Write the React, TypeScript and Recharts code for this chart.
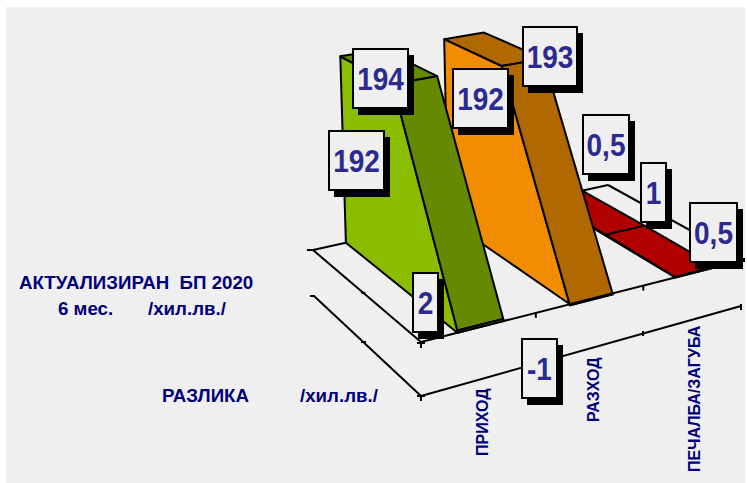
import React from "react";
import { LineChart, Line, XAxis, YAxis, Customized } from "recharts";

const depthNames = ["АКТУАЛИЗИРАН БП 2020", "6 мес.", "РАЗЛИКА"];
const categories = ["ПРИХОД", "РАЗХОД", "ПЕЧАЛБА/ЗАГУБА"];
const prihod = [192, 194, 2];
const razhod = [192, 193, -1];
const pechalba = [0.5, 1, 0.5];

const chartData = depthNames.map((name, i) => ({
  name,
  prihod: prihod[i],
  razhod: razhod[i],
  pechalba: pechalba[i],
}));

const WIDTH = 747;
const HEIGHT = 483;
const Y_MIN = -50;
const Y_MAX = 200;

// floor plane corners, back-left / back-right / front-right / front-left
const FLOOR = [[313, 250], [608, 185], [744, 260], [421, 342]];
const RIBBON_LEFT = 0.31;
const RIBBON_RIGHT = 0.71;

// homography from (u, d) on the unit square to the floor quad
const [p0, p1, p2, p3] = FLOOR;
const sx = p0[0] - p1[0] + p2[0] - p3[0];
const sy = p0[1] - p1[1] + p2[1] - p3[1];
const dx1 = p1[0] - p2[0];
const dx2 = p3[0] - p2[0];
const dy1 = p1[1] - p2[1];
const dy2 = p3[1] - p2[1];
const det = dx1 * dy2 - dx2 * dy1;
const g = (sx * dy2 - dx2 * sy) / det;
const h = (dx1 * sy - sx * dy1) / det;

function project(u: number, d: number, value = 0) {
  const w = g * u + h * d + 1;
  const x = ((p1[0] - p0[0] + g * p1[0]) * u + (p3[0] - p0[0] + h * p3[0]) * d + p0[0]) / w;
  const y = ((p1[1] - p0[1] + g * p1[1]) * u + (p3[1] - p0[1] + h * p3[1]) * d + p0[1]) / w;
  const lift = (value * 0.98) / w;
  // verticals converge upward, so the lean depends on where we are across the chart
  const lean = 0.03 - (x - 346) * 0.00008;
  return [x - lift * lean, y - lift];
}

const poly = (pts: number[][]) => pts.map((p) => `${p[0].toFixed(1)},${p[1].toFixed(1)}`).join(" ");

// turn the point the line scales gave us back into depth and value
const depthOf = (x: number) => x / WIDTH;
const valueOf = (y: number) => Y_MAX - (y * (Y_MAX - Y_MIN)) / HEIGHT;

function ribbonDot(series: number, light: string, dark: string) {
  return (props: any) => {
    const { index, points } = props;
    if (index !== 0) return <g key={index} />;
    const uL = (series + RIBBON_LEFT) / 3;
    const uR = (series + RIBBON_RIGHT) / 3;
    const rows = points.map((pt: any) => ({ d: depthOf(pt.x), v: valueOf(pt.y) }));
    const topsL = rows.map((r: any) => project(uL, r.d, r.v));
    const topsR = rows.map((r: any) => project(uR, r.d, r.v));
    const last = rows.length - 1;
    const side = [...topsL, project(uL, rows[last].d), project(uL, rows[0].d)];
    const front = [topsL[last], topsR[last], project(uR, rows[last].d), project(uL, rows[last].d)];
    return (
      <g key={index} stroke="#000" strokeWidth={2} strokeLinejoin="round">
        <polygon points={poly(side)} fill={light} />
        {rows.slice(0, last).map((_: any, i: number) => (
          <polygon key={i} points={poly([topsL[i], topsR[i], topsR[i + 1], topsL[i + 1]])} fill={dark} />
        ))}
        <polygon points={poly(front)} fill={dark} />
      </g>
    );
  };
}

// label boxes: left, top, width, per series and depth row
const LABEL_BOXES = [
  [[329, 131, 55], [353, 49, 55], [413, 273, 25]],
  [[453, 69, 55], [523, 27, 54], [522, 339, 35]],
  [[583, 115, 46], [641, 163, 25], [690, 203, 47]],
];
const LABEL_H = 59;

function labelDot(series: number) {
  return (props: any) => {
    const { index, value } = props;
    const [x, y, w] = LABEL_BOXES[series][index];
    const text = String(value).replace(".", ",");
    return (
      <g key={index}>
        <rect x={x + 5} y={y + 6} width={w + 1} height={LABEL_H + 1} fill="#000" />
        <rect x={x} y={y} width={w} height={LABEL_H} fill="#efefef" stroke="#000" strokeWidth={2} />
        <text
          transform={`translate(${x + w / 2},${y + LABEL_H / 2 + 11}) scale(1,1.12)`}
          textAnchor="middle"
          fontFamily="'Liberation Sans', Arial, sans-serif"
          fontWeight="bold"
          fontSize={28}
          fill="#2b2b8f"
        >
          {text}
        </text>
      </g>
    );
  };
}

const axisText = {
  fontFamily: "'Liberation Sans', Arial, sans-serif",
  fontWeight: "bold" as const,
  fill: "#00007a",
};

const Floor = () => {
  const line = (a: number[], b: number[]) => (
    <line x1={a[0]} y1={a[1]} x2={b[0]} y2={b[1]} stroke="#000" strokeWidth={2} />
  );
  const categoryX = [488, 599, 700];
  const categoryY = [456, 422, 472];
  const leftMid = project(0, 0.5);
  // the lower frame sits under the floor
  const lowBack = [314, 296];
  const lowFront = [421, 396];
  const lowRight = [741, 306];
  return (
    <g>
      {line(p0, p1)}
      {line(p1, p2)}
      {line(p2, p3)}
      {line(p3, p0)}
      {line(p0, [p0[0] - 6, p0[1]])}
      {line(lowBack, lowFront)}
      {line(lowFront, lowRight)}
      {[1 / 3, 2 / 3].map((u) => {
        const t = project(u, 1);
        return <React.Fragment key={u}>{line(t, [t[0], t[1] + 5])}</React.Fragment>;
      })}
      {line([p3[0], p3[1]], [p3[0], p3[1] + 6])}
      {line([p3[0] - 4, p3[1] + 1], [p3[0] + 4, p3[1] + 1])}
      {line([lowFront[0], lowFront[1]], [lowFront[0], lowFront[1] + 5])}
      {line([lowFront[0] - 4, lowFront[1]], [lowFront[0] + 4, lowFront[1]])}
      {line([lowBack[0] - 4, lowBack[1]], [lowBack[0] + 1, lowBack[1]])}
      {line([leftMid[0] - 2, leftMid[1]], [leftMid[0] + 2, leftMid[1]])}
      {line([361, 342], [366, 342])}
      {line([643, 331], [643, 336])}
      {line([741, 304], [741, 310])}
      {line([744, 258], [744, 262])}
      <text x={19} y={289} fontSize={18.7} {...axisText} xmlSpace="preserve">АКТУАЛИЗИРАН  БП 2020</text>
      <text x={58} y={315} fontSize={18.7} {...axisText}>{depthNames[1]}</text>
      <text x={148} y={315} fontSize={18.7} {...axisText}>/хил.лв./</text>
      <text x={162} y={402} fontSize={18.7} {...axisText}>{depthNames[2]}</text>
      <text x={300} y={402} fontSize={18.7} {...axisText}>/хил.лв./</text>
      {categories.map((c, i) => (
        <text
          key={c}
          transform={`translate(${categoryX[i]},${categoryY[i]}) rotate(-90)`}
          fontSize={16}
          {...axisText}
        >
          {c}
        </text>
      ))}
    </g>
  );
};

const RIBBONS = [
  { key: "pechalba", series: 2, light: "#b00000", dark: "#b00000" },
  { key: "razhod", series: 1, light: "#f28c00", dark: "#b06800" },
  { key: "prihod", series: 0, light: "#8abc00", dark: "#658a00" },
];

export default function App() {
  return (
    <div style={{ position: "absolute", left: 0, top: 0, width: WIDTH, height: HEIGHT, background: "#fff" }}>
      <div style={{ position: "absolute", left: 6, top: 7, width: 739, height: 476, background: "#efefef" }} />
      <div style={{ position: "absolute", left: 0, top: 0 }}>
        <LineChart width={WIDTH} height={HEIGHT} data={chartData} margin={{ top: 0, right: 0, bottom: 0, left: 0 }}>
          <XAxis dataKey="name" hide padding={{ left: 0, right: 0 }} />
          <YAxis hide domain={[Y_MIN, Y_MAX]} />
          <Customized component={<Floor />} />
          {RIBBONS.map((r) => (
            <Line
              key={r.key}
              dataKey={r.key}
              stroke="none"
              isAnimationActive={false}
              activeDot={false}
              dot={ribbonDot(r.series, r.light, r.dark)}
            />
          ))}
          {RIBBONS.map((r) => (
            <Line
              key={r.key + "-label"}
              dataKey={r.key}
              stroke="none"
              isAnimationActive={false}
              activeDot={false}
              dot={labelDot(r.series)}
            />
          ))}
        </LineChart>
      </div>
    </div>
  );
}
